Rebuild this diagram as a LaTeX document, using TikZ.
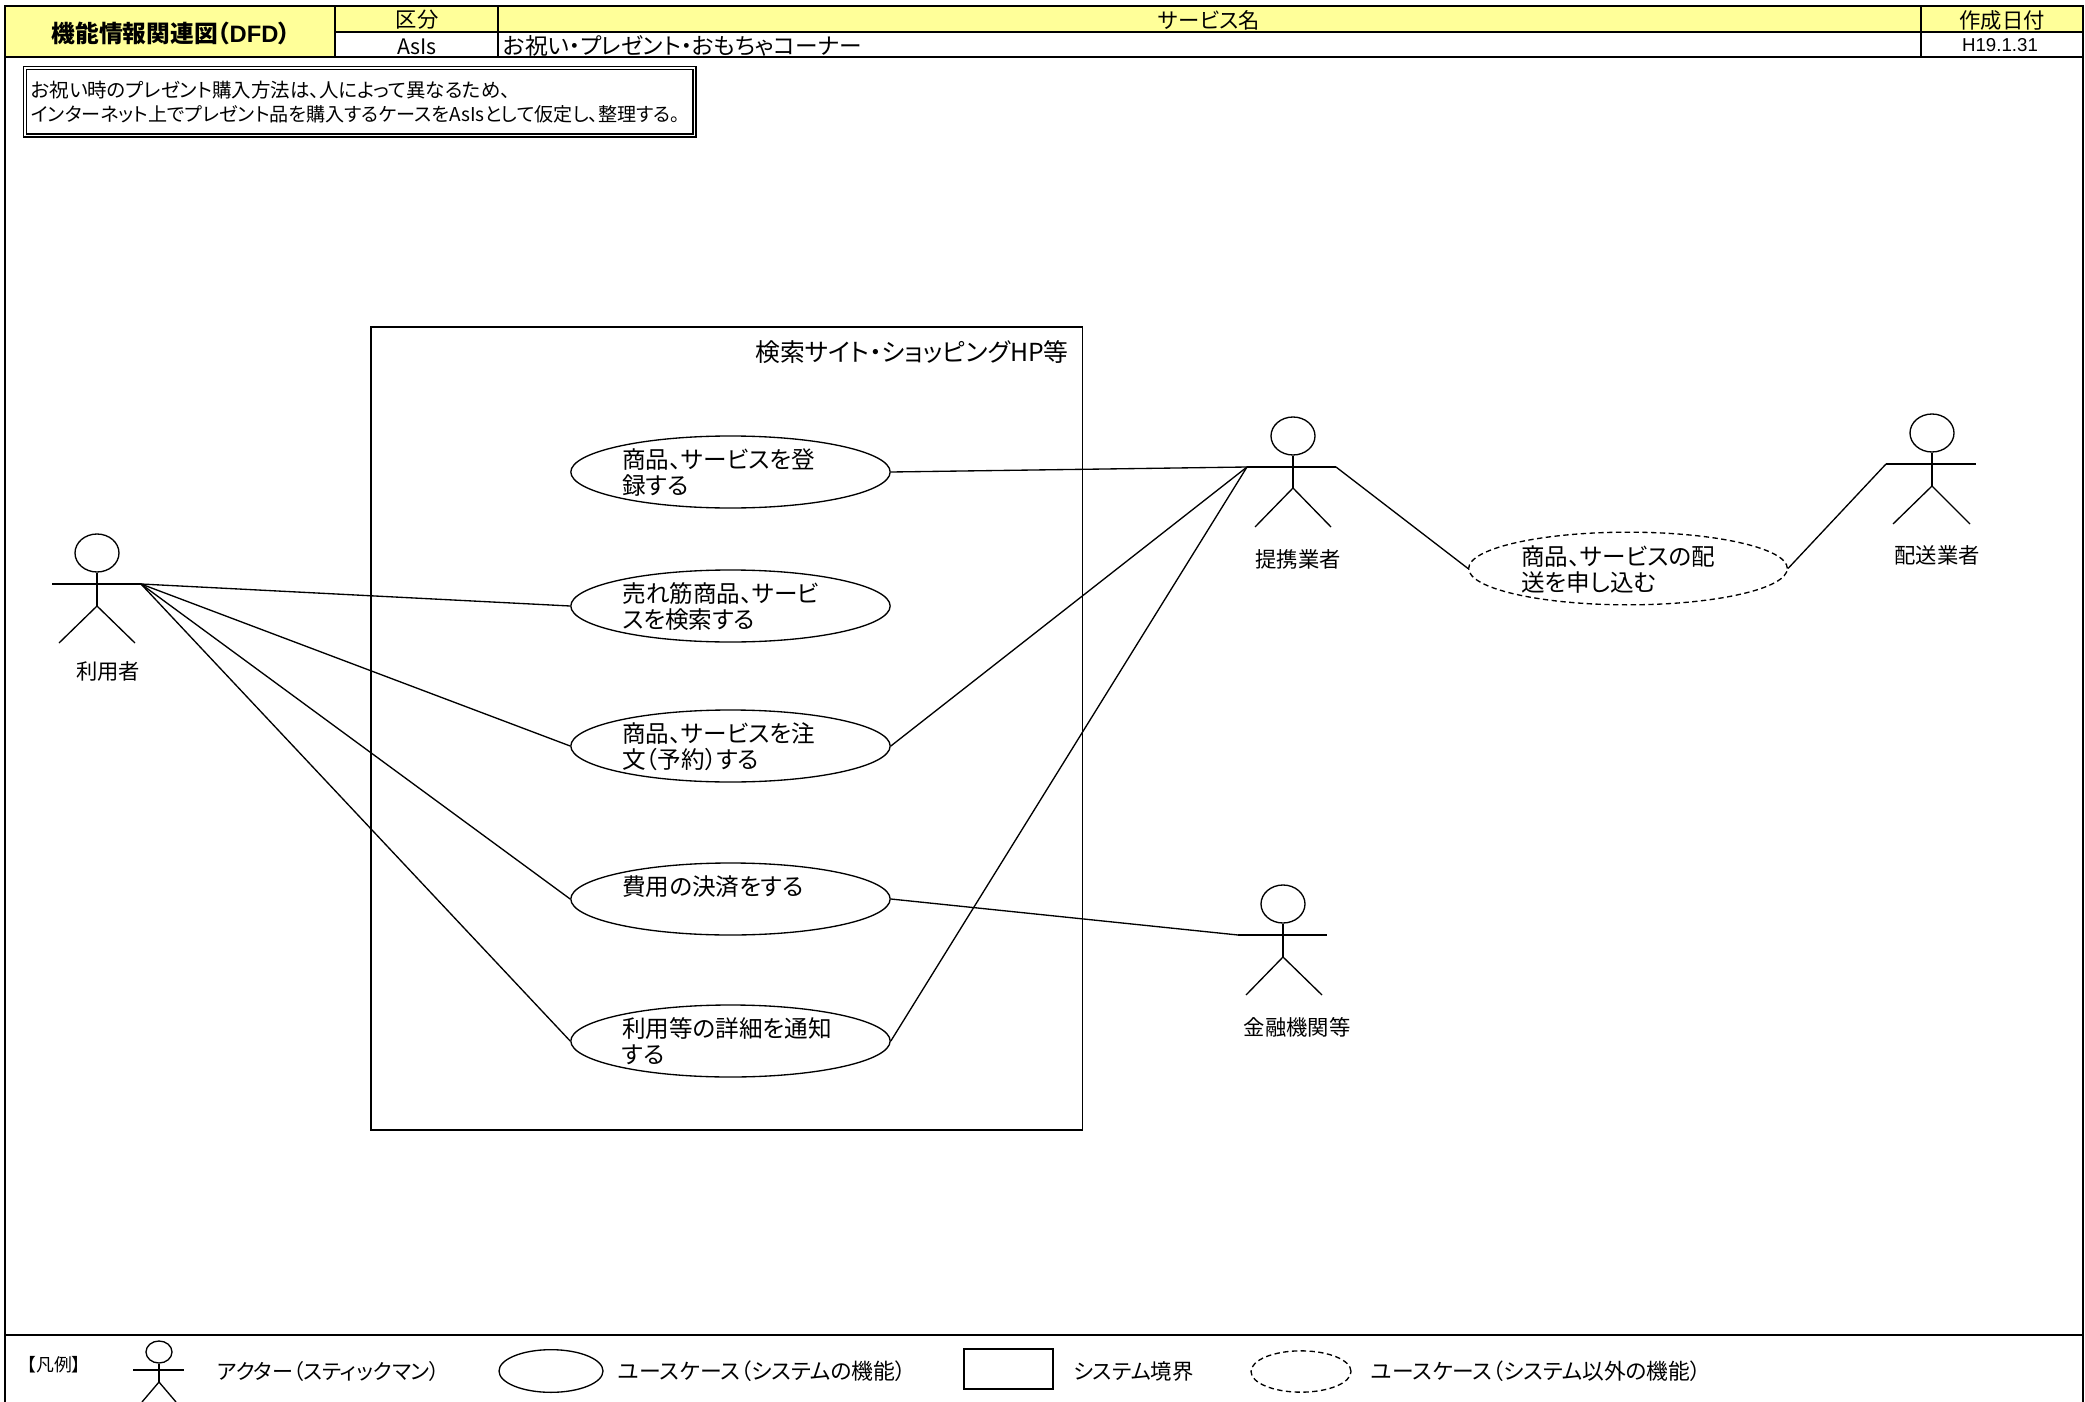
\documentclass[tikz,border=0pt]{standalone}
\usepackage{fontspec}
\usetikzlibrary{shapes.geometric}
\setmainfont{Noto Sans CJK JP}[RawFeature=+palt]
\newfontfamily\latinfont{Liberation Sans}
\definecolor{hdr}{HTML}{FFFF99}
\newcommand{\fs}[1]{\fontsize{#1}{20}\selectfont}
\tikzset{
  x=0.75pt,y=-0.75pt,
  hline/.style={line width=1.5pt,draw=black},
  thin line/.style={line width=1pt,draw=black},
  uc/.style={ellipse,draw=black,line width=1pt,fill=white,minimum width=239.5pt,minimum height=54pt,inner sep=0pt},
  ucd/.style={ellipse,draw=black,line width=1pt,dash pattern=on 4pt off 2.6pt,fill=white,inner sep=0pt},
  head/.style={ellipse,draw=black,line width=1pt,minimum width=33pt,minimum height=28.5pt,inner sep=0pt},
  uctext/.style={anchor=north west,align=left,inner sep=0pt,font=\fs{17.7}},
  actext/.style={inner sep=0pt,font=\fs{16}},
  legtext/.style={anchor=west,inner sep=0pt,font=\fs{16}},
  conn/.style={line width=1pt,draw=black},
}
% name, cx, armL, armR, armY, hipY, footL, footR, footY
\newcommand{\stickman}[9]{%
  \node[head] (#1-head) at (#2,#5-31) {};
  \coordinate (#1-l) at (#3,#5);
  \coordinate (#1-r) at (#4,#5);
  \coordinate (#1-hip) at (#2,#6);
  \draw[conn] (#1-l) -- (#1-r);
  \draw[conn] (#1-head.south) -- (#1-hip);
  \draw[conn] (#7,#9) -- (#1-hip) -- (#8,#9);
}
\begin{document}
\begin{tikzpicture}
\useasboundingbox (0,0) rectangle (2085,1402);
\fill[white] (0,0) rectangle (2085,1402);
% header
\fill[hdr] (4.5,6.5) rectangle (335,57);
\fill[hdr] (335,6.5) rectangle (2083,32);
\draw[hline] (4.5,1402) -- (4.5,6.5) -- (2083,6.5) -- (2083,1402);
\draw[hline] (335,32) -- (2083,32);
\draw[hline] (4.5,57.5) -- (2083,57.5);
\draw[hline] (335,6.5) -- (335,57.5);
\draw[hline] (498,6.5) -- (498,57.5);
\draw[hline] (1921,6.5) -- (1921,57.5);
\draw[hline] (4.5,1335) -- (2083,1335);
\node[inner sep=0pt,font=\fs{17.8}\bfseries] (title) at (171,33) {機能情報関連図（{\latinfont DFD}）};
\node[inner sep=0pt,font=\fs{16}] (kubun) at (417,20) {区分};
\node[inner sep=0pt,font=\fs{16}] (asis) at (417,46.5) {AsIs};
\node[inner sep=0pt,font=\fs{16}] (svc) at (1209,20) {サービス名};
\node[inner sep=0pt,font=\fs{17},anchor=west] (svcname) at (503,46) {お祝い・プレゼント・おもちゃコーナー};
\node[inner sep=0pt,font=\fs{16}] (date) at (2002,20) {作成日付};
\node[inner sep=0pt,font=\fs{14}\latinfont] (dateval) at (2000,45) {H19.1.31};
% note
\draw[line width=0.9pt] (23.5,66.5) rectangle (696,137);
\draw[line width=0.9pt] (26.5,69.5) rectangle (693,134);
\node[inner sep=0pt,font=\fs{14.6},anchor=west] (note1) at (31,90.5) {お祝い時のプレゼント購入方法は、人によって異なるため、};
\node[inner sep=0pt,font=\fs{14.3},anchor=west] (note2) at (31,114) {インターネット上でプレゼント品を購入するケースをAsIsとして仮定し、整理する。};
% system boundary
\draw[thin line] (371,327) rectangle (1082.5,1130);
\node[inner sep=0pt,font=\fs{18.6},anchor=east] (sys) at (1069,352) {検索サイト・ショッピングHP等};
% use cases
\node[uc] (u1) at (730.5,472) {};
\node[uc] (u2) at (730.5,606) {};
\node[uc] (u3) at (730.5,746) {};
\node[uc] (u4) at (730.5,899) {};
\node[uc] (u5) at (730.5,1041) {};
\node[ucd,minimum width=239pt,minimum height=54.5pt] (u6) at (1628,568.5) {};
\node[uctext] (t1) at (622,448) {商品、サービスを登\\録する};
\node[uctext] (t2) at (622,582) {売れ筋商品、サービ\\スを検索する};
\node[uctext] (t3) at (622,722) {商品、サービスを注\\文（予約）する};
\node[uctext] (t4) at (622,875) {費用の決済をする};
\node[uctext] (t5) at (622,1017) {利用等の詳細を通知\\する};
\node[uctext] (t6) at (1521,545) {商品、サービスの配\\送を申し込む};
% actors
\stickman{user}{97}{52}{141}{584}{606}{59}{135}{643}
\stickman{partner}{1293}{1247}{1336}{467}{488}{1255}{1331}{527}
\stickman{courier}{1932}{1886}{1976}{464}{486}{1893}{1970}{524}
\stickman{bank}{1283}{1238}{1327}{935}{957}{1246}{1322}{995}
\node[actext] (l1) at (108,671) {利用者};
\node[actext] (l2) at (1298,559) {提携業者};
\node[actext] (l3) at (1937,555) {配送業者};
\node[actext] (l4) at (1297,1027) {金融機関等};
% connectors
\draw[conn] (user-r) -- (u2.west);
\draw[conn] (user-r) -- (u3.west);
\draw[conn] (user-r) -- (u4.west);
\draw[conn] (user-r) -- (u5.west);
\draw[conn] (u1.east) -- (partner-l);
\draw[conn] (u3.east) -- (partner-l);
\draw[conn] (u5.east) -- (partner-l);
\draw[conn] (u4.east) -- (bank-l);
\draw[conn] (partner-r) -- (u6.west);
\draw[conn] (u6.east) -- (courier-l);
% legend
\node[inner sep=0pt,font=\fs{13.4},anchor=west] (leg0) at (27,1365) {【凡例】};
\node[ellipse,draw=black,line width=1pt,minimum width=19.5pt,minimum height=16.5pt,inner sep=0pt] (lh) at (159,1352) {};
\coordinate (la) at (133,1370);
\coordinate (lb) at (184,1370);
\coordinate (lc) at (159,1382);
\coordinate (ld) at (142,1402);
\coordinate (le) at (176,1402);
\draw[conn] (la) -- (lb);
\draw[conn] (lh.south) -- (lc);
\draw[conn] (ld) -- (lc) -- (le);
\node[legtext,font=\fs{15.8}] (lt1) at (217,1371) {アクター（スティックマン）};
\node[uc,minimum width=78pt,minimum height=32pt] (lu) at (551,1371) {};
\node[legtext,font=\fs{16.4}] (lt2) at (618,1371) {ユースケース（システムの機能）};
\node[draw=black,line width=1pt,minimum width=66.75pt,minimum height=30pt,inner sep=0pt] (lr) at (1008.5,1369) {};
\node[legtext] (lt3) at (1073,1371) {システム境界};
\node[ucd,minimum width=75pt,minimum height=31pt] (ld2) at (1301,1371.5) {};
\node[legtext,font=\fs{16.3}] (lt4) at (1371,1371) {ユースケース（システム以外の機能）};
\end{tikzpicture}
\end{document}
